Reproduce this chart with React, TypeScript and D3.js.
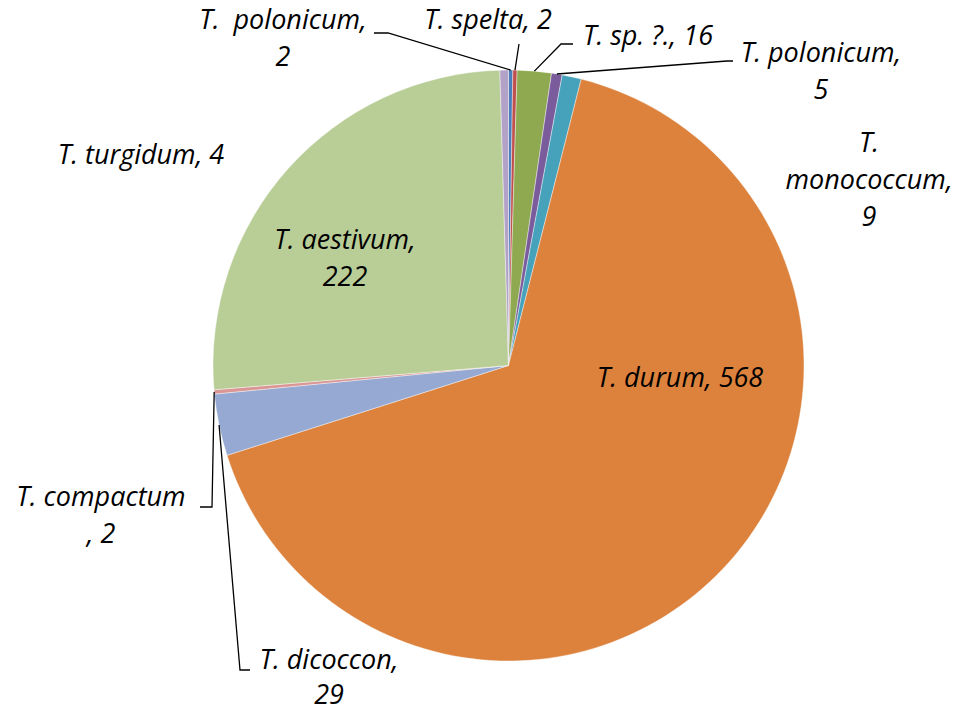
import { useEffect, useRef } from "react";
import * as d3 from "d3";

// species, counts (clockwise from 12 o'clock)
const species = [
  "T.  polonicum", "T. spelta", "T. sp. ?.", "T. polonicum", "T. monococcum",
  "T. durum", "T. dicoccon", "T. compactum", "T. aestivum", "T. turgidum",
];
const counts = [2, 2, 16, 5, 9, 568, 29, 2, 222, 4];
const colors = [
  "#4A7EBB", "#C0504D", "#8FA951", "#7A5C9C", "#46A1BB",
  "#DC823D", "#95A9D2", "#D99694", "#B9CD97", "#B3A2C7",
];

// label layout: lines, centre x, first baseline, line gap, optional leader elbow points
const labelLayout: Record<string, { lines: string[]; x: number; y: number; gap?: number; leader?: [number, number][] }> = {
  "T.  polonicum": { lines: ["T.  polonicum,", "2"], x: 283, y: 29, leader: [[388, 33], [374, 33]] },
  "T. spelta": { lines: ["T. spelta, 2"], x: 488, y: 29, leader: [[519, 44]] },
  "T. sp. ?.": { lines: ["T. sp. ?., 16"], x: 648, y: 45, leader: [[561, 44], [573, 44]] },
  "T. polonicum": { lines: ["T. polonicum,", "5"], x: 821, y: 62, leader: [[727, 61], [733, 61]] },
  "T. monococcum": { lines: ["T.", "monococcum,", "9"], x: 869, y: 152 },
  "T. durum": { lines: ["T. durum, 568"], x: 680, y: 387 },
  "T. dicoccon": { lines: ["T. dicoccon,", "29"], x: 329, y: 669, gap: 35, leader: [[240, 670], [250, 670]] },
  "T. compactum": { lines: ["T. compactum", ", 2"], x: 101, y: 506, leader: [[212, 507], [200, 507]] },
  "T. aestivum": { lines: ["T. aestivum,", "222"], x: 345, y: 249 },
  "T. turgidum": { lines: ["T. turgidum, 4"], x: 141, y: 164 },
};

export default function App() {
  const ref = useRef<SVGSVGElement>(null);
  const width = 959;
  const height = 714;
  const cx = 508.5;
  const cy = 365.5;
  const radius = 295.5;
  const lineHeight = 37;

  useEffect(() => {
    const svg = d3.select(ref.current);
    svg.selectAll("*").remove();

    const data = species.map((name, i) => ({ name, value: counts[i], color: colors[i] }));
    const pie = d3.pie<any>().value((d) => d.value).sort(null);
    const arcs = pie(data);
    const arc = d3.arc<any>().innerRadius(0).outerRadius(radius);

    const g = svg.append("g").attr("transform", `translate(${cx},${cy})`);

    g.selectAll("path.slice")
      .data(arcs)
      .enter()
      .append("path")
      .attr("class", "slice")
      .attr("d", arc)
      .attr("fill", (d) => d.data.color)
      .attr("stroke", "#fff")
      .attr("stroke-width", 0.4);

    // leader lines from arc edge (mid angle) to elbow points
    arcs.forEach((a) => {
      const lay = labelLayout[a.data.name];
      if (!lay || !lay.leader) return;
      const mid = (a.startAngle + a.endAngle) / 2;
      const start: [number, number] = [cx + Math.sin(mid) * radius, cy - Math.cos(mid) * radius];
      const pts = [start, ...lay.leader];
      svg.append("path")
        .attr("d", d3.line()(pts))
        .attr("fill", "none")
        .attr("stroke", "#000")
        .attr("stroke-width", 1.3);
    });

    arcs.forEach((a) => {
      const lay = labelLayout[a.data.name];
      const t = svg.append("text")
        .attr("text-anchor", "middle")
        .attr("font-family", "'Open Sans', sans-serif")
        .attr("font-style", "italic")
        .attr("font-size", 27)
        .attr("fill", "#000");
      lay.lines.forEach((ln, i) => {
        t.append("tspan")
          .attr("x", lay.x)
          .attr("y", lay.y + i * (lay.gap ?? lineHeight))
          .attr("xml:space", "preserve")
          .text(ln);
      });
    });
  }, []);

  return (
    <svg
      ref={ref}
      width={width}
      height={height}
      style={{ position: "absolute", left: 0, top: 0, background: "#fff" }}
    />
  );
}
